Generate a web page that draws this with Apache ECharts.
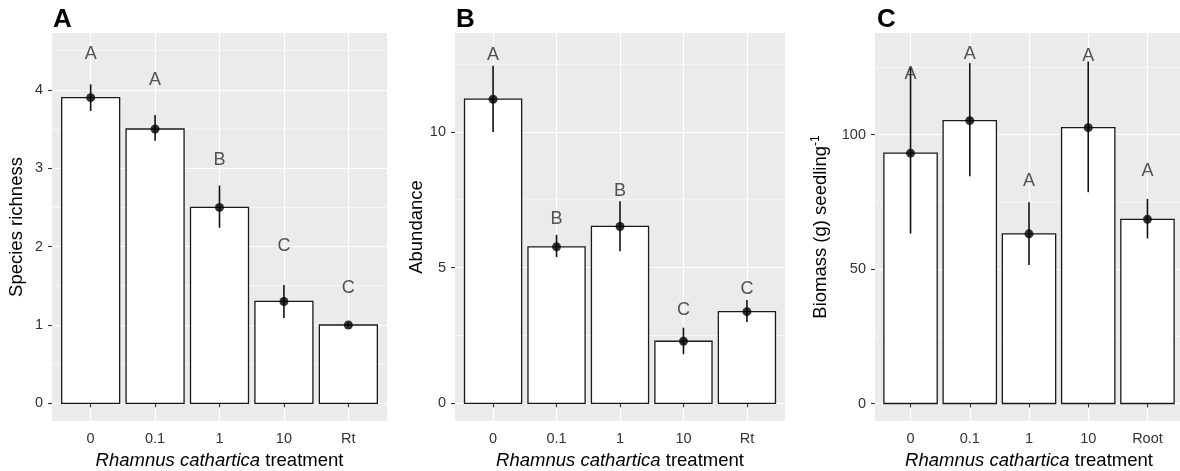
<!DOCTYPE html>
<html>
<head>
<meta charset="utf-8">
<script src="https://cdn.jsdelivr.net/npm/echarts@6/dist/echarts.min.js"></script>
<style>
html, body { margin: 0; padding: 0; background: #fff; }
#chart { width: 1180px; height: 471px; }
</style>
</head>
<body>
<div id="chart"></div>
<script>
// treatment labels
var catsAB = ['0', '0.1', '1', '10', 'Rt'];
var catsC = ['0', '0.1', '1', '10', 'Root'];

// A: species richness
var richMean = [3.90, 3.50, 2.50, 1.30, 1.00];
var richLow = [3.73, 3.35, 2.24, 1.09, 0.97];
var richHigh = [4.07, 3.68, 2.78, 1.51, 1.03];
var richLetters = ['A', 'A', 'B', 'C', 'C'];
var richLetterY = [4.46, 4.12, 3.11, 2.01, 1.47];
var richTicks = [0, 1, 2, 3, 4];
var richMinor = [0.5, 1.5, 2.5, 3.5, 4.5];

// B: abundance
var abunMean = [11.21, 5.77, 6.52, 2.29, 3.38];
var abunLow = [10.0, 5.39, 5.61, 1.81, 3.0];
var abunHigh = [12.44, 6.21, 7.45, 2.79, 3.81];
var abunLetters = ['A', 'B', 'B', 'C', 'C'];
var abunLetterY = [12.84, 6.81, 7.84, 3.43, 4.23];
var abunTicks = [0, 5, 10];
var abunMinor = [2.5, 7.5, 12.5];

// C: biomass per seedling
var bioMean = [93.1, 105.2, 63.1, 102.6, 68.5];
var bioLow = [63.2, 84.5, 51.5, 78.6, 61.4];
var bioHigh = [124.9, 126.6, 74.9, 127.2, 76.1];
var bioLetters = ['A', 'A', 'A', 'A', 'A'];
var bioLetterY = [122.5, 130.0, 82.9, 129.1, 86.6];
var bioTicks = [0, 50, 100];
var bioMinor = [25, 75, 125];

var xPos = [1, 2, 3, 4, 5];
var FONT = 'Liberation Sans, Arial, sans-serif';

var chart = echarts.init(document.getElementById('chart'));

function barItem(params, api) {
    var x = api.value(0), v = api.value(1);
    var p1 = api.coord([x - 0.45, v]);
    var p2 = api.coord([x + 0.45, 0]);
    return {
        type: 'rect',
        shape: { x: p1[0], y: p1[1], width: p2[0] - p1[0], height: p2[1] - p1[1] },
        style: { fill: '#fff', stroke: '#1a1a1a', lineWidth: 1.3 }
    };
}

function errItem(params, api) {
    var x = api.value(0);
    var a = api.coord([x, api.value(1)]);
    var b = api.coord([x, api.value(2)]);
    return {
        type: 'line',
        shape: { x1: a[0], y1: a[1], x2: b[0], y2: b[1] },
        style: { stroke: '#111', lineWidth: 1.6 }
    };
}

function minorItem(params, api) {
    var cs = params.coordSys;
    var y = api.coord([1, api.value(1)])[1];
    return {
        type: 'line',
        shape: { x1: cs.x, y1: y, x2: cs.x + cs.width, y2: y },
        style: { stroke: '#fff', lineWidth: 0.6 }
    };
}

function xAxisCfg(idx, cats) {
    return {
        type: 'value', gridIndex: idx, min: 0.4, max: 5.6,
        name: '{i|Rhamnus cathartica} treatment',
        nameLocation: 'middle', nameGap: 30,
        nameTextStyle: {
            fontFamily: FONT, fontSize: 18.5, color: '#000',
            rich: { i: { fontFamily: FONT, fontSize: 18.5, fontStyle: 'italic', color: '#000' } }
        },
        axisLine: { show: false },
        axisTick: { show: true, customValues: xPos, length: 4, lineStyle: { color: '#333', width: 1.1 } },
        axisLabel: {
            customValues: xPos, margin: 10, fontFamily: FONT, fontSize: 14.5, color: '#333',
            formatter: function (v) { return cats[Math.round(v) - 1]; }
        },
        splitLine: { show: true, lineStyle: { color: '#fff', width: 1.2 } }
    };
}

function yAxisCfg(idx, min, max, ticks, name, gap) {
    return {
        type: 'value', gridIndex: idx, min: min, max: max,
        name: name, nameLocation: 'middle', nameGap: gap,
        nameTextStyle: {
            fontFamily: FONT, fontSize: 18.5, color: '#000',
            rich: { sup: { fontFamily: FONT, fontSize: 12, color: '#000', verticalAlign: 'top', padding: [0, 0, 10, 0] } }
        },
        axisLine: { show: false },
        axisTick: { show: true, customValues: ticks, length: 4, lineStyle: { color: '#333', width: 1.1 } },
        axisLabel: { customValues: ticks, margin: 9, fontFamily: FONT, fontSize: 14.5, color: '#333' },
        splitLine: { show: true, lineStyle: { color: '#fff', width: 1.2 } }
    };
}

function panelSeries(idx, mean, low, high, letters, letterY, minor) {
    return [
        {
            type: 'custom', xAxisIndex: idx, yAxisIndex: idx, z: 1, silent: true,
            renderItem: minorItem,
            data: minor.map(function (v) { return [1, v]; })
        },
        {
            type: 'custom', xAxisIndex: idx, yAxisIndex: idx, z: 2, silent: true,
            renderItem: barItem,
            data: mean.map(function (v, i) { return [xPos[i], v]; })
        },
        {
            type: 'custom', xAxisIndex: idx, yAxisIndex: idx, z: 3, silent: true,
            renderItem: errItem,
            data: mean.map(function (v, i) { return [xPos[i], low[i], high[i]]; })
        },
        {
            type: 'scatter', xAxisIndex: idx, yAxisIndex: idx, z: 4, silent: true,
            symbolSize: 9, itemStyle: { color: '#000' },
            data: mean.map(function (v, i) { return [xPos[i], v]; })
        },
        {
            type: 'scatter', xAxisIndex: idx, yAxisIndex: idx, z: 5, silent: true,
            symbolSize: 1, itemStyle: { color: 'transparent' },
            label: {
                show: true, position: 'inside', fontFamily: FONT, fontSize: 18, color: '#2a2a2a',
                textBorderWidth: 0, textBorderColor: 'transparent',
                formatter: function (p) { return letters[p.dataIndex]; }
            },
            data: letterY.map(function (v, i) { return [xPos[i], v]; })
        }
    ];
}

var panelTitle = function (txt, left) {
    return {
        text: txt, left: left, top: 7, padding: 0,
        textStyle: { fontFamily: FONT, fontSize: 26, fontWeight: 'bold', color: '#000' }
    };
};

var gridStyle = { show: true, backgroundColor: '#EBEBEB', borderWidth: 0, containLabel: false, outerBoundsMode: 'none' };

chart.setOption({
    animation: false,
    title: [panelTitle('A', 53), panelTitle('B', 456), panelTitle('C', 877)],
    grid: [
        Object.assign({ left: 52, top: 33, width: 335, height: 388 }, gridStyle),
        Object.assign({ left: 455, top: 33, width: 330, height: 388 }, gridStyle),
        Object.assign({ left: 875, top: 33, width: 308, height: 388 }, gridStyle)
    ],
    xAxis: [xAxisCfg(0, catsAB), xAxisCfg(1, catsAB), xAxisCfg(2, catsC)],
    yAxis: [
        yAxisCfg(0, -0.225, 4.725, richTicks, 'Species richness', 26),
        yAxisCfg(1, -0.65, 13.65, abunTicks, 'Abundance', 29),
        yAxisCfg(2, -6.5, 137.8, bioTicks, 'Biomass (g) seedling{sup|-1}', 43)
    ],
    series: [].concat(
        panelSeries(0, richMean, richLow, richHigh, richLetters, richLetterY, richMinor),
        panelSeries(1, abunMean, abunLow, abunHigh, abunLetters, abunLetterY, abunMinor),
        panelSeries(2, bioMean, bioLow, bioHigh, bioLetters, bioLetterY, bioMinor)
    )
});
</script>
</body>
</html>
